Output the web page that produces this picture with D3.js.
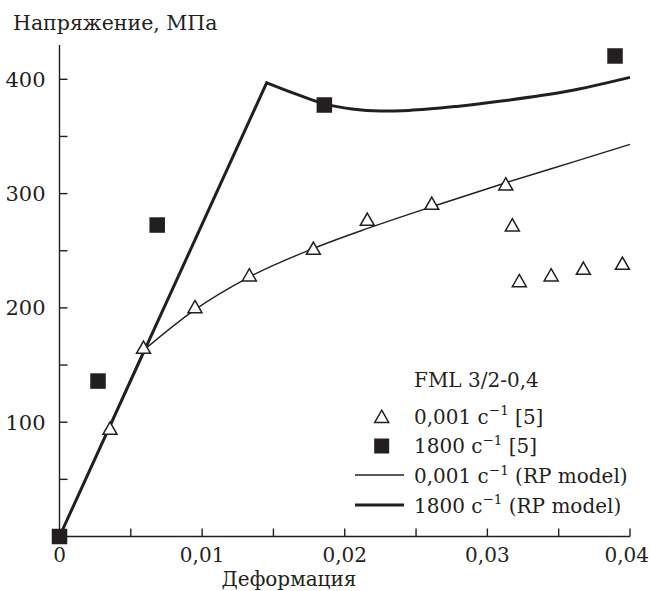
<!DOCTYPE html>
<html>
<head>
<meta charset="utf-8">
<script src="https://cdn.jsdelivr.net/npm/d3@7"></script>
<style>
  html, body { margin: 0; padding: 0; background: #fff; }
  svg { display: block; }
</style>
</head>
<body>
<svg id="chart" width="650" height="591"></svg>
<script>
// ---------- data ----------
const triStrain   = [0.00354, 0.00589, 0.0095, 0.01331, 0.0178, 0.02158, 0.0261, 0.03129, 0.03175, 0.03224, 0.03447, 0.03673, 0.03947];
const triStress   = [94.7, 165.5, 201, 228.8, 252.1, 277.5, 291.5, 308.4, 272.5, 223.8, 228.8, 234.6, 239];

const sqStrain    = [0, 0.0027, 0.00685, 0.01857, 0.03895];
const sqStress    = [0, 136, 272.5, 377.5, 420.4];

// RP model, 0.001 c^-1 : elastic part then hardening curve
const thinElStrain   = [0, 0.0059];
const thinElStress   = [0, 163];
const thinPlStrain   = [0.0059, 0.0095, 0.0133, 0.0178, 0.0216, 0.0261, 0.0313, 0.0361, 0.0400];
const thinPlStress   = [163, 198.5, 227, 252, 269.5, 288.5, 309.5, 328, 343];

// RP model, 1800 c^-1 : elastic part then softening/hardening curve
const thickElStrain  = [0, 0.01453];
const thickElStress  = [0, 397];
const thickPlStrain  = [0.01453, 0.0165, 0.01857, 0.0205, 0.0225, 0.0245, 0.0280, 0.0310, 0.0356, 0.0400];
const thickPlStress  = [397, 387.5, 378.5, 374, 372.3, 372.8, 376.5, 381, 389.5, 401.7];

const xTickValues = [0, 0.01, 0.02, 0.03, 0.04];
const xTickLabels = ["0", "0,01", "0,02", "0,03", "0,04"];
const xMinorTicks = [0.005, 0.015, 0.025, 0.035];
const yTickValues = [100, 200, 300, 400];
const yTickLabels = ["100", "200", "300", "400"];
const yMinorTicks = [50, 150, 250, 350];

const yTitle = "Напряжение, МПа";
const xTitle = "Деформация";
const legendTitle = "FML 3/2-0,4";

// ---------- scales ----------
const ink = "#231f20";
const fontFam = "'DejaVu Serif', 'Liberation Serif', 'Noto Serif', serif";
const W = 650;
const svg = d3.select("#chart");
const x = d3.scaleLinear().domain([0, 0.04]).range([59.5, 630]);
const y = d3.scaleLinear().domain([0, 400]).range([536.5, 79.3]);

const zip = (a, b) => a.map((v, i) => [v, b[i]]);

// ---------- axes ----------
const tickLen = 8;
const axisG = svg.append("g").attr("stroke", ink).attr("stroke-width", 1.4);
axisG.append("line").attr("x1", x(0)).attr("x2", x(0)).attr("y1", y(0)).attr("y2", 45);
axisG.append("line").attr("x1", x(0)).attr("x2", x(0.04)).attr("y1", y(0)).attr("y2", y(0));

const xAll = xTickValues.concat(xMinorTicks).filter(v => v > 0);
axisG.selectAll(".xt").data(xAll).join("line")
  .attr("x1", d => x(d)).attr("x2", d => x(d))
  .attr("y1", y(0)).attr("y2", y(0) - tickLen);
const yAll = yTickValues.concat(yMinorTicks);
axisG.selectAll(".yt").data(yAll).join("line")
  .attr("x1", x(0)).attr("x2", x(0) + tickLen)
  .attr("y1", d => y(d)).attr("y2", d => y(d));

const T = svg.append("g").style("font-family", fontFam).attr("fill", ink);

T.selectAll(".xl").data(xTickValues).join("text")
  .attr("x", d => x(d)).attr("y", 561.5)
  .attr("text-anchor", "middle").attr("font-size", 20)
  .text((d, i) => xTickLabels[i])
  .each(function(d) {
    // keep the last label inside the picture
    const w = this.getComputedTextLength();
    const cx = Math.min(x(d), W - w / 2 - 1);
    d3.select(this).attr("x", cx);
  });

T.selectAll(".yl").data(yTickValues).join("text")
  .attr("x", x(0) - 14).attr("y", d => y(d) + 7.5)
  .attr("text-anchor", "end").attr("font-size", 21)
  .text((d, i) => yTickLabels[i]);

T.append("text").attr("x", 13).attr("y", 29.5).attr("font-size", 20.5).text(yTitle);
T.append("text").attr("x", 289).attr("y", 586)
  .attr("text-anchor", "middle").attr("font-size", 20).text(xTitle);

// ---------- model curves ----------
const straight = d3.line().x(d => x(d[0])).y(d => y(d[1]));
const smooth = d3.line().x(d => x(d[0])).y(d => y(d[1])).curve(d3.curveMonotoneX);

function modelPath(elX, elY, plX, plY, w) {
  const el = straight(zip(elX, elY));
  const pl = smooth(zip(plX, plY));
  svg.append("path").attr("d", el + "L" + pl.slice(1))
    .attr("fill", "none").attr("stroke", ink)
    .attr("stroke-width", w).attr("stroke-linejoin", "miter");
}
modelPath(thinElStrain, thinElStress, thinPlStrain, thinPlStress, 1.4);
modelPath(thickElStrain, thickElStress, thickPlStrain, thickPlStress, 3);

// ---------- markers ----------
const triPath = "M0,-6.3L7,6L-7,6Z";
svg.selectAll(".tri").data(zip(triStrain, triStress)).join("path")
  .attr("d", triPath)
  .attr("transform", d => `translate(${x(d[0])},${y(d[1])})`)
  .attr("fill", "#fff").attr("stroke", ink).attr("stroke-width", 1.5);

const sq = 15.5;
svg.selectAll(".sq").data(zip(sqStrain, sqStress)).join("rect")
  .attr("x", d => x(d[0]) - sq / 2).attr("y", d => y(d[1]) - sq / 2)
  .attr("width", sq).attr("height", sq).attr("fill", ink);

// ---------- legend ----------
const lg = svg.append("g").style("font-family", fontFam).attr("fill", ink);
const tx = 414;
const lfs = 20;
lg.append("text").attr("x", tx).attr("y", 387).attr("font-size", lfs).text(legendTitle);

function rateText(yb, rate, suffix) {
  const t = lg.append("text").attr("x", tx).attr("y", yb).attr("font-size", lfs);
  t.append("tspan").text(rate + " с");
  t.append("tspan").attr("dy", -8.5).attr("font-size", 13.5).text("−1");
  t.append("tspan").attr("dy", 8.5).text(" " + suffix);
}
rateText(423.5, "0,001", "[5]");
rateText(453, "1800", "[5]");
rateText(483, "0,001", "(RP model)");
rateText(512.5, "1800", "(RP model)");

lg.append("path").attr("d", triPath).attr("transform", "translate(381.7,416.5)")
  .attr("fill", "#fff").attr("stroke", ink).attr("stroke-width", 1.5);
lg.append("rect").attr("x", 381.7 - 7.5).attr("y", 446 - 7.5).attr("width", 15).attr("height", 15).attr("fill", ink);
lg.append("line").attr("x1", 355).attr("x2", 404).attr("y1", 475).attr("y2", 475).attr("stroke", ink).attr("stroke-width", 1.4);
lg.append("line").attr("x1", 355).attr("x2", 404).attr("y1", 505).attr("y2", 505).attr("stroke", ink).attr("stroke-width", 3);
</script>
</body>
</html>
